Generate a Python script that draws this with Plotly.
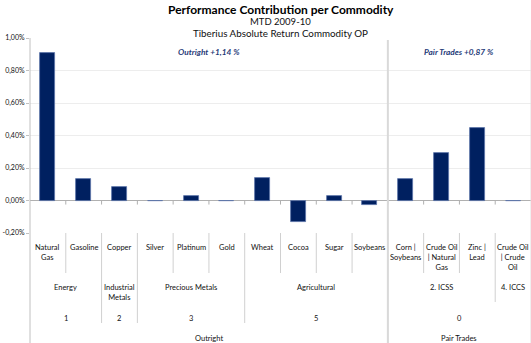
import plotly.graph_objects as go

commodities = ["Natural<br>Gas", "Gasoline", "Copper", "Silver", "Platinum", "Gold",
               "Wheat", "Cocoa", "Sugar", "Soybeans", "Corn |<br>Soybeans",
               "Crude Oil<br>| Natural<br>Gas", "Zinc |<br>Lead", "Crude Oil<br>| Crude<br>Oil"]
contribution = [0.91, 0.131, 0.084, -0.002, 0.029, -0.005, 0.137, -0.135, 0.025, -0.030,
                0.130, 0.293, 0.446, -0.002]
sectors = ["Energy", "Industrial<br>Metals", "Precious Metals", "Agricultural", "2. ICSS", "4. ICCS"]
sector_sizes = [2, 1, 3, 4, 3, 1]
numbers = ["1", "2", "3", "5", "0"]
number_sizes = [2, 1, 3, 4, 4]
strategies = ["Outright", "Pair Trades"]
strategy_sizes = [10, 4]
strategy_notes = ["Outright +1,14 %", "Pair Trades +0,87 %"]
y_ticks = [-0.2, 0.0, 0.2, 0.4, 0.6, 0.8, 1.0]
y_ticktext = ["-0,20%", "0,00%", "0,20%", "0,40%", "0,60%", "0,80%", "1,00%"]
title_lines = ["Performance Contribution per Commodity", "MTD 2009-10",
               "Tiberius Absolute Return Commodity OP"]

FONT = "Lato"
PLOT_TOP, PLOT_BOT = 38, 233
TXT = "#111111"

def py(p):
    return (PLOT_BOT - p) / (PLOT_BOT - PLOT_TOP)

x = list(range(len(commodities)))
fig = go.Figure(go.Bar(
    x=x, y=contribution, width=0.42,
    marker=dict(color="#002060", line=dict(color="#5a73a8", width=0.8)),
))

annotations = []
shapes = []
for i, c in enumerate(commodities):
    annotations.append(dict(x=i, y=py(241), xref="x", yref="paper", text=c, showarrow=False,
                            yanchor="top", font=dict(size=7.5, color=TXT, family=FONT)))

levels = [(sectors, sector_sizes, 281, 302),
          (numbers, number_sizes, 312, 323),
          (strategies, strategy_sizes, 332, 343)]
level1_bottom = 273
line_col = "#d0d0d0"
bottoms = {k: level1_bottom for k in range(1, len(commodities))}
for labels, sizes, ty, bot in levels:
    pos = 0
    for lab, s in zip(labels, sizes):
        annotations.append(dict(x=pos + s / 2 - 0.5, y=py(ty), xref="x", yref="paper", text=lab,
                                showarrow=False, yanchor="top",
                                font=dict(size=7.5, color=TXT, family=FONT)))
        pos += s
        if pos < len(commodities):
            bottoms[pos] = bot
for k, b in bottoms.items():
    shapes.append(dict(type="line", xref="x", yref="paper", x0=k - 0.5, x1=k - 0.5,
                       y0=0, y1=py(b), line=dict(color=line_col, width=1)))
    shapes.append(dict(type="line", xref="x", yref="y", x0=k - 0.5, x1=k - 0.5,
                       y0=0, y1=-0.025, line=dict(color="#b0b0b0", width=1)))

shapes.append(dict(type="line", xref="paper", yref="paper", x0=0, x1=0, y0=1, y1=py(343),
                   line=dict(color="#c0c0c0", width=1)))
sep = strategy_sizes[0] - 0.5
shapes.append(dict(type="line", xref="x", yref="paper", x0=sep, x1=sep, y0=py(40), y1=py(343),
                   line=dict(color="#d9d9d9", width=2)))
shapes.append(dict(type="line", xref="paper", yref="paper", x0=1, x1=1, y0=py(40), y1=py(343),
                   line=dict(color="#e0e0e0", width=1)))

pos = 0
for note, s in zip(strategy_notes, strategy_sizes):
    annotations.append(dict(x=pos + s / 2 - 0.5, y=py(52), xref="x", yref="paper",
                            yanchor="middle",
                            text="<b><i>" + note + "</i></b>", showarrow=False,
                            font=dict(size=8.3, color="#1f3a78", family=FONT)))
    pos += s

# titles
for txt, yy, sz in [("<b>" + title_lines[0] + "</b>", 9, 12),
                    (title_lines[1], 21.5, 9.5),
                    (title_lines[2], 33, 9.8)]:
    annotations.append(dict(x=0.5, y=py(yy), xref="paper", yref="paper", xanchor="center",
                            yanchor="middle", text=txt, showarrow=False,
                            font=dict(size=sz, color="#000" if sz == 12 else TXT, family=FONT)))

fig.update_layout(
    width=531, height=343,
    margin=dict(l=30, r=0, t=PLOT_TOP, b=343 - PLOT_BOT),
    plot_bgcolor="white", paper_bgcolor="white",
    showlegend=False,
    font=dict(family=FONT, color=TXT),
    xaxis=dict(range=[-0.5, len(commodities) - 0.5], showticklabels=False, showgrid=False,
               zeroline=False, showline=False, ticks=""),
    yaxis=dict(range=[-0.2, 1.0], tickvals=y_ticks, ticktext=y_ticktext,
               tickfont=dict(size=7, color=TXT, family=FONT),
               showgrid=True, gridcolor="#ededed", gridwidth=1,
               zeroline=True, zerolinecolor="#b0b0b0", zerolinewidth=1,
               showline=False, ticks="outside", ticklen=3, tickcolor="#c0c0c0"),
    annotations=annotations,
    shapes=shapes,
    bargap=0,
)
fig.write_html("out.html")
